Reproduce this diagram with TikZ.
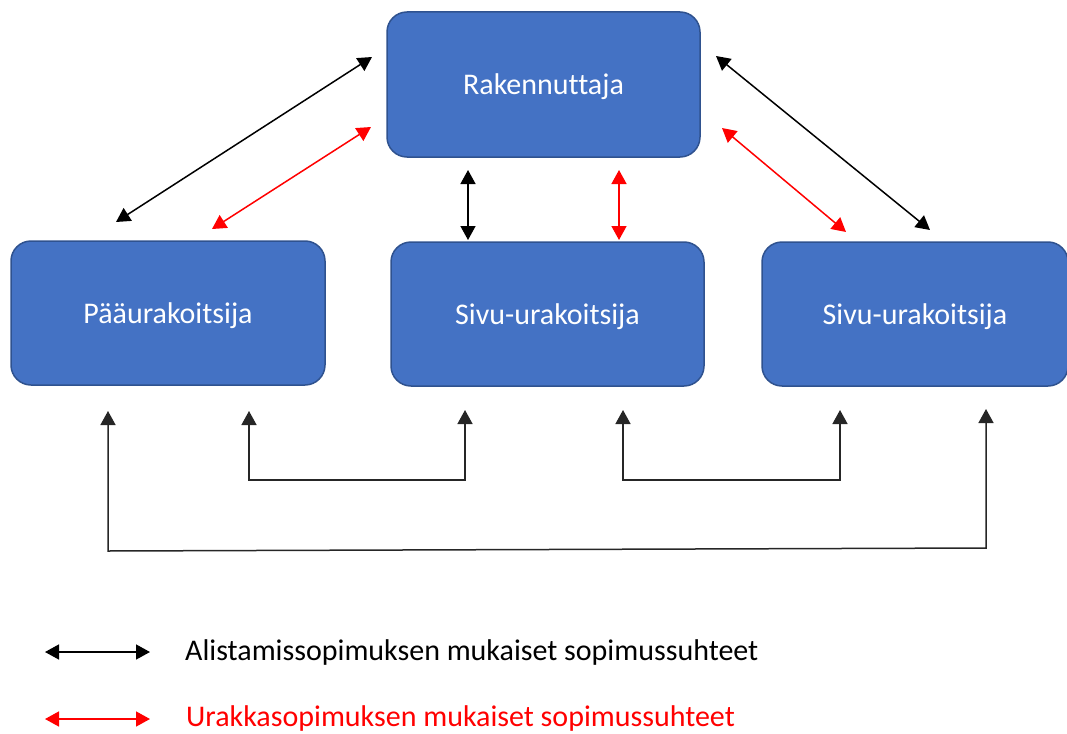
\documentclass[tikz,border=0pt]{standalone}
\usepackage{fontspec}
\setmainfont{Carlito}[Ligatures=NoCommon]
\usetikzlibrary{arrows.meta}
\definecolor{boxfill}{HTML}{4472C4}
\definecolor{boxline}{HTML}{2F528F}
\definecolor{urakka}{HTML}{FF0000}
\tikzset{
  party/.style={draw=boxline, line width=1.5pt, fill=boxfill, rounded corners=20pt,
    text=white, font=\fontsize{30}{36}\selectfont, inner sep=0pt,
    text height=24pt, text depth=4pt},
  tip/.tip={Triangle[length=14pt,width=15pt]},
  alist/.style={draw=black, line width=1.5pt, {tip}-{tip}},
  urakkaline/.style={draw=urakka, line width=1.5pt, {tip}-{tip}},
  alistup/.style={draw=black!85, line width=1.5pt, {tip}-{tip}},
  legendtext/.style={anchor=west, font=\fontsize{30}{36}\selectfont, inner sep=0pt}
}
\begin{document}
\begin{tikzpicture}[x=1pt,y=-1pt]
  \useasboundingbox (0,0) rectangle (1067,733);

  % parties
  \node[party, minimum width=313pt, minimum height=145pt] (rak) at (543.5,84.5) {Rakennuttaja};
  \node[party, minimum width=314pt, minimum height=144pt] (paa) at (168,313) {Pääurakoitsija};
  \node[party, minimum width=313pt, minimum height=144pt] (sivu1) at (547.5,314) {Sivu-urakoitsija};
  \node[party, minimum width=306pt, minimum height=144pt] (sivu2) at (915,314) {Sivu-urakoitsija};

  % end points of the contract arrows
  \coordinate (rakNW) at (372,57);
  \coordinate (rakWSW) at (371,127);
  \coordinate (rakNE) at (716,56);
  \coordinate (rakESE) at (722,128);
  \coordinate (paaBlk) at (116,222);
  \coordinate (paaRed) at (212,229);
  \coordinate (s2Red) at (846,232);
  \coordinate (s2Blk) at (930,230);
  \coordinate (rakS1) at (468,170);
  \coordinate (s1Top1) at (468,240);
  \coordinate (rakS2) at (619,170);
  \coordinate (s1Top2) at (619,240);

  \draw[alist] (paaBlk) -- (rakNW);
  \draw[urakkaline] (paaRed) -- (rakWSW);
  \draw[alist] (rakS1) -- (s1Top1);
  \draw[urakkaline] (rakS2) -- (s1Top2);
  \draw[urakkaline] (rakESE) -- (s2Red);
  \draw[alist] (rakNE) -- (s2Blk);

  % subcontract links below the parties
  \coordinate (paaL) at (108,411);
  \coordinate (paaR) at (249,411);
  \coordinate (s1B) at (465,410);
  \coordinate (s1C) at (623,410);
  \coordinate (s2L) at (840,410);
  \coordinate (s2R) at (986,409);

  \draw[alistup] (paaR) -- (249,480) -- (465,480) -- (s1B);
  \draw[alistup] (s1C) -- (623,480) -- (840,480) -- (s2L);
  \draw[alistup] (paaL) -- (108,551) -- (986,548) -- (s2R);

  % legend
  \coordinate (lg1a) at (45,652);
  \coordinate (lg1b) at (150,652);
  \coordinate (lg2a) at (45,719);
  \coordinate (lg2b) at (150,719);
  \draw[alist] (lg1a) -- (lg1b);
  \draw[urakkaline] (lg2a) -- (lg2b);
  \node[legendtext] (lt1) at (185,652) {Alistamissopimuksen mukaiset sopimussuhteet};
  \node[legendtext, text=urakka] (lt2) at (186,718) {Urakkasopimuksen mukaiset sopimussuhteet};
\end{tikzpicture}
\end{document}
